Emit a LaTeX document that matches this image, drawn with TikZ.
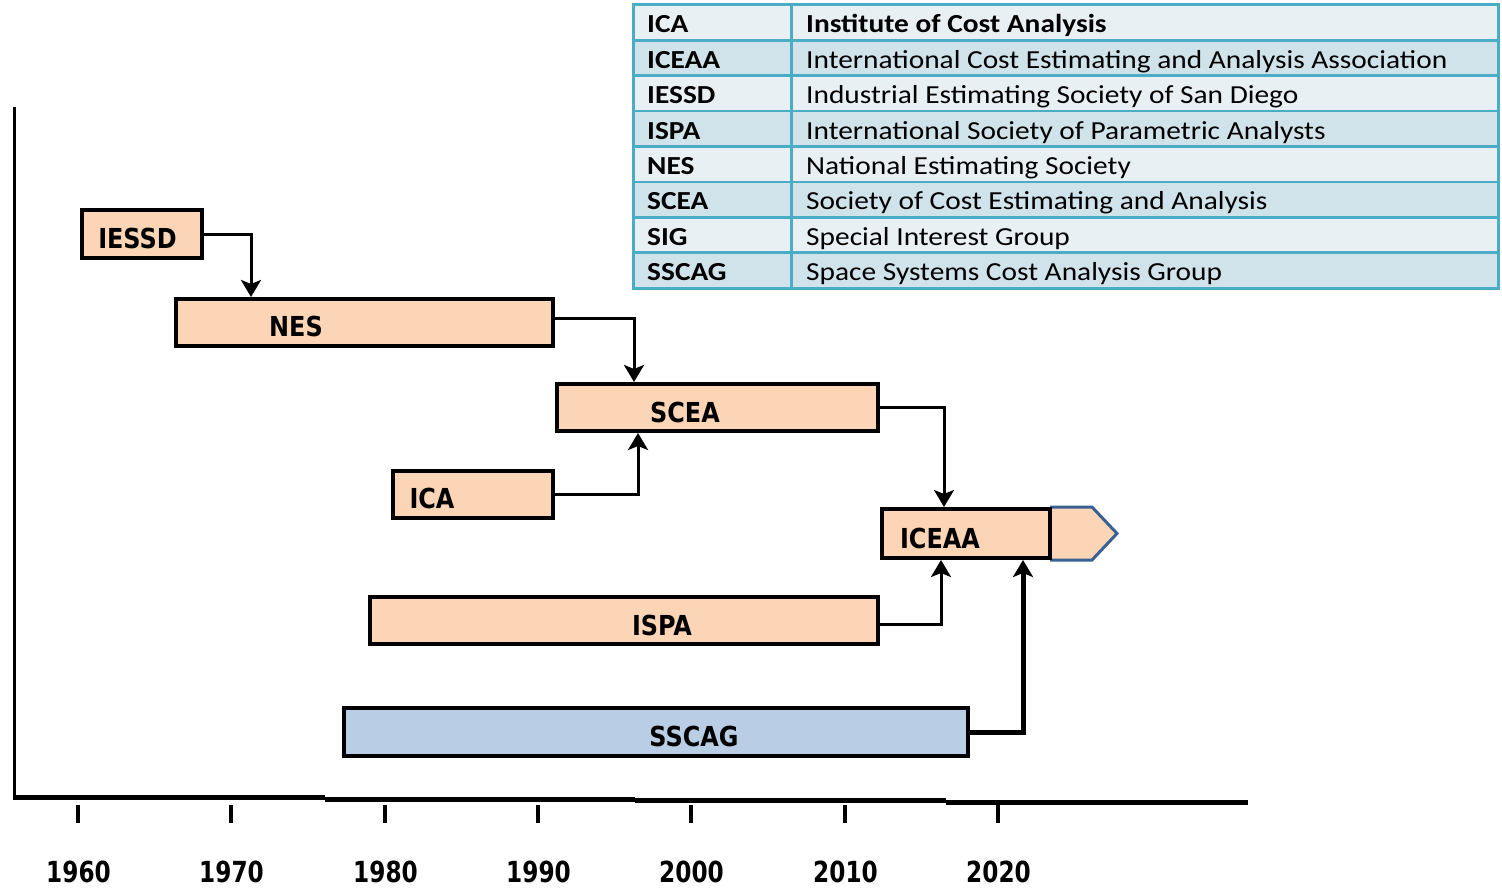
\documentclass[tikz,border=0pt]{standalone}
\usepackage{graphicx}
\usepackage{fontspec}
\setmainfont{Liberation Sans}
\newfontfamily\tabfont{Carlito}
\newfontfamily\labelfont{DejaVu Sans}
\usetikzlibrary{arrows.meta}
\definecolor{peach}{HTML}{FBD5B5}
\definecolor{steel}{HTML}{B9CDE5}
\definecolor{gridline}{HTML}{4BACC6}
\definecolor{rowlight}{HTML}{E9F0F4}
\definecolor{rowdark}{HTML}{D1E3EA}
\definecolor{tipblue}{HTML}{3A6193}
% horizontally squeezed / stretched text
\newcommand\boxtext[1]{\scalebox{0.87}[1]{#1}}
\newcommand\yeartext[1]{\scalebox{0.8}[1]{#1}}
\newcommand\tabtext[1]{\scalebox{1.13}[1]{#1}}
\begin{document}
\begin{tikzpicture}[x=1pt,y=-1pt,
  orgbox/.style={draw=black, line width=4pt, fill=peach, inner sep=0pt},
  boxlabel/.style={anchor=base, inner sep=0pt, font=\labelfont\bfseries\fontsize{27.5}{30}\selectfont},
  link/.style={draw=black, line width=3pt, line join=miter,
    -{Stealth[length=17pt,width=20pt,inset=4pt]}},
  axisline/.style={draw=black, line width=5pt},
  tick/.style={draw=black, line width=3.5pt},
  yearlabel/.style={anchor=base, inner sep=0pt, font=\labelfont\bfseries\fontsize{29}{31}\selectfont},
  cell/.style={anchor=base west, inner sep=0pt, font=\tabfont\fontsize{26}{30}\selectfont},
  headcell/.style={cell, font=\tabfont\fontsize{26}{30}\selectfont\bfseries},
]
\useasboundingbox (0,0) rectangle (1502,888);

% ---- legend table ----
\foreach \i/\fillc in {0/rowlight,1/rowdark,2/rowlight,3/rowdark,4/rowlight,5/rowdark,6/rowlight,7/rowdark}{
  \fill[\fillc] (633,5+\i*35.375) rectangle (1498,5+\i*35.375+35.375);
}
\foreach \i in {1,...,7}{
  \draw[gridline, line width=2.5pt] (633,5+\i*35.375) -- (1498,5+\i*35.375);
}
\draw[gridline, line width=3pt] (791,5) -- (791,288);
\draw[gridline, line width=3pt] (633,5) rectangle (1498,288);
\foreach \i/\abbr/\full in {
  1/ICEAA/International Cost Estimating and Analysis Association,
  2/IESSD/Industrial Estimating Society of San Diego,
  3/ISPA/International Society of Parametric Analysts,
  4/NES/National Estimating Society,
  5/SCEA/Society of Cost Estimating and Analysis,
  6/SIG/Special Interest Group,
  7/SSCAG/Space Systems Cost Analysis Group}{
  \node[headcell] (abbr-\i) at (647,33+\i*35.375) {\tabtext{\abbr}};
  \node[cell] (full-\i) at (806,33+\i*35.375) {\tabtext{\full}};
}
\node[headcell] (abbr-0) at (647,33) {\tabtext{ICA}};
\node[headcell] (full-0) at (806,33) {\tabtext{Institute of Cost Analysis}};

% ---- time axis ----
\draw[black, line width=3pt] (14,107) -- (14,797);
\draw[axisline] (12.5,797) -- (325,797);
\draw[axisline] (325,799.5) -- (635,799.5);
\draw[axisline] (635,800.5) -- (946,800.5);
\draw[axisline] (946,802.5) -- (1248,802.5);
\foreach \x/\yr in {78/1960,231/1970,385/1980,538/1990,691/2000,845/2010,998/2020}{
  \draw[tick] (\x,805) -- (\x,823);
  \node[yearlabel] (year-\yr) at (\x+0.5,882) {\yeartext{\yr}};
}

% ---- ICEAA continuation pointer ----
\filldraw[fill=peach, draw=tipblue, line width=3pt, line join=miter]
  (1050,507) -- (1092,507) -- (1117,533.5) -- (1092,560) -- (1050,560);

% ---- organisations ----
\node[orgbox, minimum width=120pt, minimum height=48pt] (iessd) at (142,234) {};
\node[orgbox, minimum width=377pt, minimum height=47pt] (nes) at (364.5,322.5) {};
\node[orgbox, minimum width=321pt, minimum height=47pt] (scea) at (717.5,407.5) {};
\node[orgbox, minimum width=160pt, minimum height=47pt] (ica) at (473,494.5) {};
\node[orgbox, minimum width=168pt, minimum height=49pt] (iceaa) at (966,533.5) {};
\node[orgbox, minimum width=508pt, minimum height=47pt] (ispa) at (624,620.5) {};
\node[orgbox, fill=steel, minimum width=624pt, minimum height=48pt] (sscag) at (656,732) {};

\node[boxlabel] (iessd-l) at (137.5,248) {\boxtext{IESSD}};
\node[boxlabel] (nes-l) at (296,336.5) {\boxtext{NES}};
\node[boxlabel] (scea-l) at (685,422) {\boxtext{SCEA}};
\node[boxlabel] (ica-l) at (432,508.5) {\boxtext{ICA}};
\node[boxlabel] (iceaa-l) at (940,548) {\boxtext{ICEAA}};
\node[boxlabel] (ispa-l) at (662,635) {\boxtext{ISPA}};
\node[boxlabel] (sscag-l) at (694,746) {\boxtext{SSCAG}};

% ---- lineage ----
\draw[link] (iessd.east) -| ([xshift=77pt]nes.north west);
\draw[link] ([yshift=4pt]nes.east) -| ([xshift=79pt]scea.north west);
\draw[link] (ica.east) -| ([xshift=83pt]scea.south west);
\draw[link] (scea.east) -| ([xshift=64pt]iceaa.north west);
\draw[link] ([yshift=-4pt]ispa.east) -| ([xshift=61pt]iceaa.south west);
\draw[link, line width=5pt] (sscag.east) -| ([xshift=143pt]iceaa.south west);
\end{tikzpicture}
\end{document}
